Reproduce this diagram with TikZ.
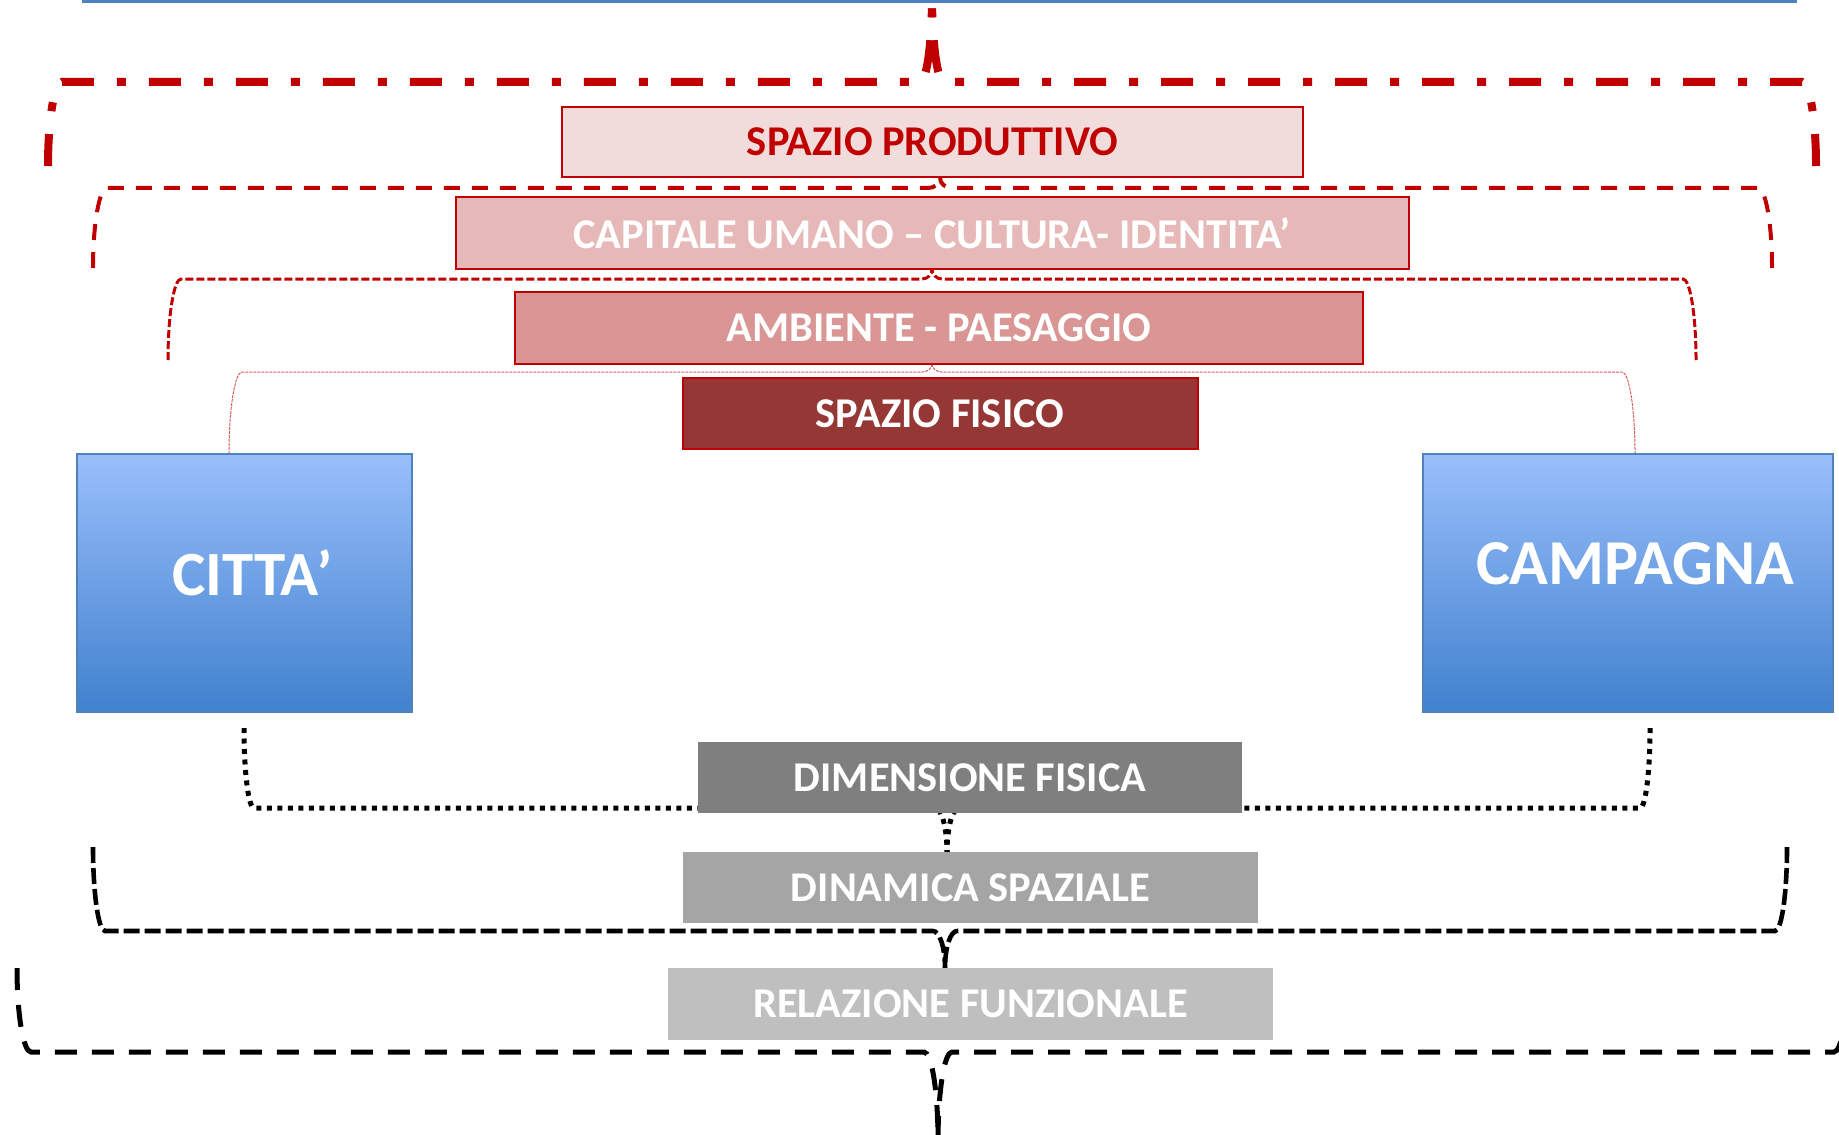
\documentclass[tikz,border=0pt]{standalone}
\usepackage{fontspec}
\setmainfont{Carlito}
\definecolor{dred}{HTML}{C00000}
\definecolor{lred}{HTML}{D85A5A}
\definecolor{prodfill}{HTML}{F2DCDB}
\definecolor{capfill}{HTML}{E6B9B8}
\definecolor{ambfill}{HTML}{D99694}
\definecolor{fisfill}{HTML}{953735}
\definecolor{g1}{HTML}{7F7F7F}
\definecolor{g2}{HTML}{A5A5A5}
\definecolor{g3}{HTML}{BFBFBF}
\definecolor{bluetop}{HTML}{99BFFB}
\definecolor{bluebot}{HTML}{4181CE}
\definecolor{bluebord}{HTML}{4F81BD}
\newcommand{\mybrace}[9]{%
  \pgfmathsetmacro\kA{#6+0.552*(#5-#6)}%
  \pgfmathsetmacro\kB{#7+0.552*(#5-#7)}%
  \draw[#1] (#2,#6) .. controls (#2,\kA) and ({#2+0.448*#8},#5) .. ({#2+#8},#5)
     -- ({#4-#9},#5) .. controls ({#4-0.448*#9},#5) and (#4,\kB) .. (#4,#7);
  \draw[#1] (#3,#6) .. controls (#3,\kA) and ({#3-0.448*#8},#5) .. ({#3-#8},#5)
     -- ({#4+#9},#5) .. controls ({#4+0.448*#9},#5) and (#4,\kB) .. (#4,#7);
}
\tikzset{
  lbl/.style={font=\bfseries\fontsize{21.2}{24}\selectfont, inner sep=0pt},
  redbox/.style={lbl, draw=dred, line width=1pt, text=white, rectangle},
  greybox/.style={lbl, draw=none, text=white, rectangle},
  bluebox/.style={draw=bluebord, line width=1.2pt, top color=bluetop, bottom color=bluebot, rectangle, inner sep=0pt},
  bigtxt/.style={font=\bfseries\fontsize{31.5}{36}\selectfont, text=white, inner sep=0pt},
  braceA/.style={dred, line width=4pt, dash pattern=on 16pt off 11.5pt on 4.5pt off 11.5pt},
  braceB/.style={dred, line width=2pt, dash pattern=on 8pt off 6pt},
  braceC/.style={dred, line width=1.5pt, dash pattern=on 4pt off 1.5pt},
  braceD/.style={lred, line width=0.5pt, dash pattern=on 1.5pt off 0.5pt},
  braceE/.style={black, line width=2.5pt, dash pattern=on 2.5pt off 2.75pt},
  braceF/.style={black, line width=2.3pt, dash pattern=on 8pt off 2.5pt},
  braceG/.style={black, line width=2.5pt, dash pattern=on 11pt off 7.5pt},
}
\begin{document}
\begin{tikzpicture}[x=0.5pt, y=-0.5pt]
\useasboundingbox (0,0) rectangle (1839,1134);
% top blue line
\draw[bluebord, line width=1.6pt] (82,1) -- (1797,1);
% braces
\mybrace{braceA}{48}{1816}{932}{82}{166}{-4}{14}{12}
\mybrace{braceB}{93}{1772}{940}{188}{268}{178}{14}{12}
\mybrace{braceC}{168}{1696}{932}{279}{360}{269}{13}{10}
\mybrace{braceD}{229}{1635}{932}{372}{454}{364}{13}{10}
\mybrace{braceE}{244}{1650}{947}{808}{728}{852}{10}{12}
\mybrace{braceF}{93}{1787}{945}{931}{847}{968}{12}{12}
\mybrace{braceG}{17}{1848}{938}{1052}{968}{1140}{14}{14}
% red boxes
\node[redbox, fill=prodfill, text=dred, minimum width=370.5pt, minimum height=35pt] (prod) at (932.5,142) {SPAZIO PRODUTTIVO};
\node[redbox, fill=capfill, minimum width=476.5pt, minimum height=36pt] (cap) at (932,233) {CAPITALE UMANO – CULTURA- IDENTITA’};
\node[redbox, fill=ambfill, minimum width=424pt, minimum height=36pt] (amb) at (939,328) {AMBIENTE - PAESAGGIO};
\node[redbox, fill=fisfill, minimum width=257.5pt, minimum height=35.5pt] (fis) at (940,413.5) {SPAZIO FISICO};
% blue boxes
\node[bluebox, minimum width=167.5pt, minimum height=129pt] (citta) at (244.5,583) {};
\node[bigtxt] (cittat) at (252.5,573) {CITTA’};
\node[bluebox, minimum width=205pt, minimum height=129pt] (camp) at (1628,583) {};
\node[bigtxt, font=\bfseries\fontsize{32}{36}\selectfont] (campt) at (1635,564) {CAMPAGNA};
% grey boxes
\node[greybox, fill=g1, minimum width=272.25pt, minimum height=35.5pt] (dim) at (970,777.5) {DIMENSIONE FISICA};
\node[greybox, fill=g2, minimum width=287.5pt, minimum height=35.5pt] (din) at (970.5,887.5) {DINAMICA SPAZIALE};
\node[greybox, fill=g3, minimum width=302.5pt, minimum height=36pt] (rel) at (970.5,1004) {RELAZIONE FUNZIONALE};
\end{tikzpicture}
\end{document}
